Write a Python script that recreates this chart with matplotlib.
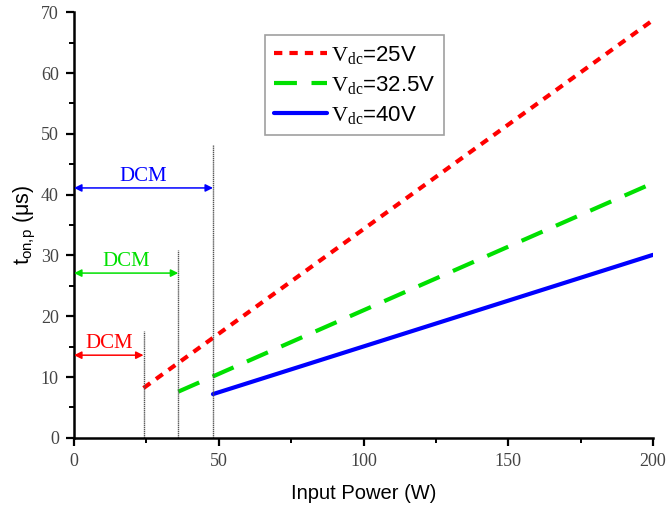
import numpy as np
import matplotlib
matplotlib.use("Agg")
import matplotlib.pyplot as plt
from matplotlib.ticker import MultipleLocator

plt.rcParams['mathtext.fontset'] = 'custom'
plt.rcParams['mathtext.rm'] = 'Liberation Serif'
plt.rcParams['mathtext.sf'] = 'Liberation Sans'
plt.rcParams['mathtext.it'] = 'Liberation Serif:italic'

# Données : temps de conduction en fonction de la puissance d'entrée
p_25 = [24, 200]
t_25 = [8.2, 68.7]
p_32 = [36, 200]
t_32 = [7.6, 41.9]
p_40 = [48, 200]
t_40 = [7.2, 30.1]

# Limites DCM : puissance, hauteur du trait, hauteur de la flèche
dcm_power = [24, 36, 48]
dcm_top = [17.6, 30.9, 48.1]
dcm_arrow = [13.6, 27.1, 41.1]
dcm_colors = ['red', '#00e000', 'blue']

fig = plt.figure(figsize=(6.67, 5.08), dpi=100)
ax = fig.add_axes([0.111, 0.138, 0.868, 0.838])

ax.plot(p_25, t_25, color='red', lw=3, dashes=(2, 1.7),
        label=r'$\mathrm{V_{dc}}$=25V')
ax.plot(p_32, t_32, color='#00e000', lw=3, dashes=(5.5, 3.5),
        label=r'$\mathrm{V_{dc}}$=32.5V')
ax.plot(p_40, t_40, color='blue', lw=3, solid_capstyle='round',
        label=r'$\mathrm{V_{dc}}$=40V')

for p, top, ya, c in zip(dcm_power, dcm_top, dcm_arrow, dcm_colors):
    ax.plot([p, p], [0, top], color='#555555', lw=1.0, ls=(0, (1, 0.5)))
    ax.annotate('', xy=(0, ya), xytext=(p, ya),
                arrowprops=dict(arrowstyle='<|-|>', color=c, lw=1.1,
                                mutation_scale=11, shrinkA=0, shrinkB=0))
    ax.text(p / 2, ya + 0.35, 'DCM', color=c, ha='center', va='bottom',
            fontsize=15, family='Liberation Serif')

ax.set_xlim(0, 200)
ax.set_ylim(0, 70)
ax.xaxis.set_major_locator(MultipleLocator(50))
ax.xaxis.set_minor_locator(MultipleLocator(25))
ax.yaxis.set_major_locator(MultipleLocator(10))
ax.yaxis.set_minor_locator(MultipleLocator(5))

for s in ['top', 'right']:
    ax.spines[s].set_visible(False)
for s in ['left', 'bottom']:
    ax.spines[s].set_linewidth(1.8)

ax.tick_params(which='major', direction='out', length=6, width=1.6,
               labelsize=13, colors='black', pad=5)
ax.tick_params(which='minor', direction='out', length=3.5, width=1.4)
for lab in ax.get_xticklabels() + ax.get_yticklabels():
    lab.set_family('Liberation Serif')
    lab.set_color('#444444')

ax.set_xlabel('Input Power (W)', fontsize=14.5, family='Liberation Sans',
              labelpad=10)
ax.set_ylabel(r'$\mathsf{t_{on{,}p}}$ (μs)', fontsize=15.5,
              family='Liberation Sans', labelpad=2)

leg = ax.legend(loc='upper left', bbox_to_anchor=(0.33, 0.946),
                prop={'family': 'Liberation Sans', 'size': 16},
                fancybox=False, edgecolor='#888888', handlelength=2.4,
                handletextpad=0.15, labelspacing=0.35, borderpad=0.4,
                borderaxespad=0)
leg.get_frame().set_linewidth(1.2)

fig.savefig('out.png', dpi=100)
